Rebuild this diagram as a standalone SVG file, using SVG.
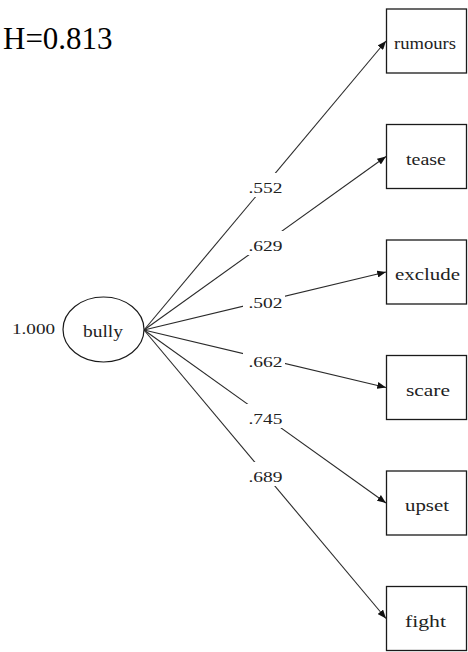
<svg xmlns="http://www.w3.org/2000/svg" width="468" height="652" viewBox="0 0 468 652">
  <style>
    .box { fill: #ffffff; stroke: #1a1a1a; stroke-width: 1.3; }
    .latent { fill: #ffffff; stroke: #1a1a1a; stroke-width: 1.2; }
    .edge { stroke: #2a2a2a; stroke-width: 1.1; fill: none; marker-end: url(#arrow); }
    .lbl { font-family: "Liberation Serif", "Times New Roman", serif; fill: #222222; text-anchor: middle; }
    .var { font-size: 17px; }
    .coef { font-size: 15px; }
    .gap { fill: #ffffff; stroke: none; }
    .title { font-family: "Liberation Serif", "Times New Roman", serif; font-size: 31px; fill: #000000; }
  </style>
  <defs>
    <marker id="arrow" viewBox="0 0 10 8" refX="10" refY="4" markerUnits="userSpaceOnUse" markerWidth="9" markerHeight="7" orient="auto">
      <path d="M0,0 L10,4 L0,8 z" fill="#111111"/>
    </marker>
  </defs>

  <rect width="468" height="652" fill="#ffffff"/>

  <text class="title" x="3" y="49">H=0.813</text>

  <!-- loadings from the latent factor to each indicator -->
  <g id="connectors">
    <line class="edge" x1="144" y1="330" x2="386" y2="41"/>
    <line class="edge" x1="144" y1="330" x2="386" y2="156.5"/>
    <line class="edge" x1="144" y1="330" x2="386" y2="272"/>
    <line class="edge" x1="144" y1="330" x2="386" y2="387.5"/>
    <line class="edge" x1="144" y1="330" x2="386" y2="503"/>
    <line class="edge" x1="144" y1="330" x2="386" y2="618.5"/>

    <g id="coefficients">
      <rect class="gap" x="243" y="173" width="42" height="24"/>
      <text class="lbl coef" x="265.5" y="193" textLength="34" lengthAdjust="spacingAndGlyphs">.552</text>
      <rect class="gap" x="243" y="231" width="42" height="24"/>
      <text class="lbl coef" x="265.5" y="251" textLength="34" lengthAdjust="spacingAndGlyphs">.629</text>
      <rect class="gap" x="243" y="288" width="42" height="24"/>
      <text class="lbl coef" x="265.5" y="308" textLength="34" lengthAdjust="spacingAndGlyphs">.502</text>
      <rect class="gap" x="243" y="347" width="42" height="24"/>
      <text class="lbl coef" x="265.5" y="367" textLength="34" lengthAdjust="spacingAndGlyphs">.662</text>
      <rect class="gap" x="243" y="404" width="42" height="24"/>
      <text class="lbl coef" x="265.5" y="424" textLength="34" lengthAdjust="spacingAndGlyphs">.745</text>
      <rect class="gap" x="243" y="462" width="42" height="24"/>
      <text class="lbl coef" x="265.5" y="482" textLength="34" lengthAdjust="spacingAndGlyphs">.689</text>
    </g>
  </g>

  <!-- latent factor -->
  <g id="bully">
    <ellipse class="latent" cx="103.5" cy="329.5" rx="40.5" ry="32.5"/>
    <text class="lbl" font-size="16.5" x="103" y="337" textLength="40" lengthAdjust="spacingAndGlyphs">bully</text>
    <text class="lbl coef" x="33.5" y="334" textLength="43" lengthAdjust="spacingAndGlyphs">1.000</text>
  </g>

  <!-- observed indicators -->
  <g id="rumours">
    <rect class="box" x="386.5" y="9" width="80" height="64"/>
    <text class="lbl var" x="425" y="49" textLength="62" lengthAdjust="spacingAndGlyphs">rumours</text>
  </g>
  <g id="tease">
    <rect class="box" x="386.5" y="124.5" width="80" height="64"/>
    <text class="lbl var" x="426" y="164.5" textLength="40" lengthAdjust="spacingAndGlyphs">tease</text>
  </g>
  <g id="exclude">
    <rect class="box" x="386.5" y="240" width="80" height="64"/>
    <text class="lbl var" x="427.5" y="280" textLength="65" lengthAdjust="spacingAndGlyphs">exclude</text>
  </g>
  <g id="scare">
    <rect class="box" x="386.5" y="355.5" width="80" height="64"/>
    <text class="lbl var" x="428" y="395.5" textLength="44" lengthAdjust="spacingAndGlyphs">scare</text>
  </g>
  <g id="upset">
    <rect class="box" x="386.5" y="471" width="80" height="64"/>
    <text class="lbl var" x="427" y="511" textLength="44" lengthAdjust="spacingAndGlyphs">upset</text>
  </g>
  <g id="fight">
    <rect class="box" x="386.5" y="586.5" width="80" height="64"/>
    <text class="lbl var" x="425.5" y="626.5" textLength="41" lengthAdjust="spacingAndGlyphs">fight</text>
  </g>
</svg>
